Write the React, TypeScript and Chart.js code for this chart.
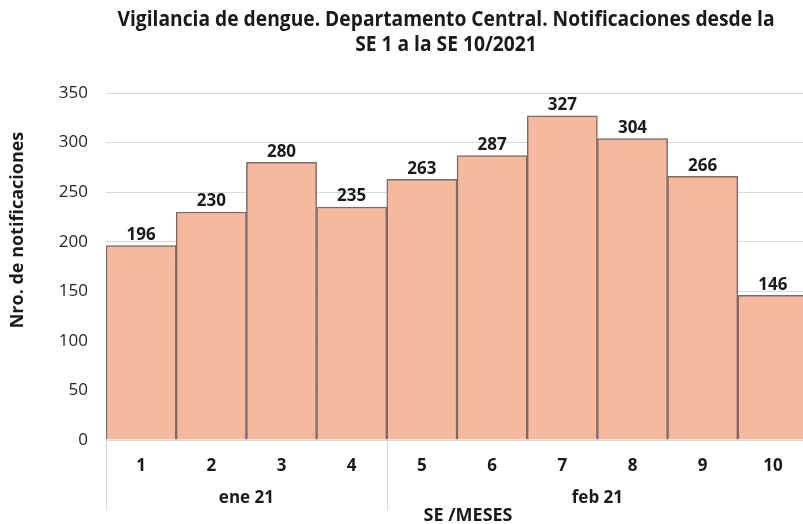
import React, { useEffect, useRef } from "react";
import { Chart, registerables } from "chart.js";

Chart.register(...registerables);

const weeks = ["1", "2", "3", "4", "5", "6", "7", "8", "9", "10"];
const notifications = [196, 230, 280, 235, 263, 287, 327, 304, 266, 146];
const months = ["ene 21", "feb 21"];
const monthStartIndex = [0, 4];
const monthEndIndex = [3, 9];
const titleLines = [
  "Vigilancia de dengue. Departamento Central. Notificaciones desde la",
  "SE 1 a la SE 10/2021",
];
const yTitle = "Nro. de notificaciones";
const xTitle = "SE /MESES";

const BASE_FONT = "'Open Sans', 'Noto Sans', sans-serif";
const TITLE_FONT = "'Open Sans', 'Noto Sans', sans-serif";

const overlayPlugin = {
  id: "overlay",
  afterDatasetsDraw(chart: any) {
    const ctx = chart.ctx;
    const x = chart.scales.x;
    const area = chart.chartArea;
    const meta = chart.getDatasetMeta(0);
    ctx.save();
    // data labels
    ctx.font = "bold 17px " + BASE_FONT;
    ctx.fillStyle = "#1a1a1a";
    ctx.textAlign = "center";
    ctx.textBaseline = "bottom";
    meta.data.forEach((bar: any, i: number) => {
      ctx.fillText(String(notifications[i]), bar.x, bar.y - 2);
    });
    // separators and month labels
    const half = (x.getPixelForValue(1) - x.getPixelForValue(0)) / 2;
    ctx.strokeStyle = "#d9d9d9";
    ctx.lineWidth = 1;
    months.forEach((m, k) => {
      const left = x.getPixelForValue(monthStartIndex[k]) - half;
      const right = x.getPixelForValue(monthEndIndex[k]) + half;
      ctx.beginPath();
      ctx.moveTo(Math.round(left) + 0.5, area.bottom);
      ctx.lineTo(Math.round(left) + 0.5, area.bottom + 70);
      ctx.stroke();
      ctx.font = "bold 17px " + BASE_FONT;
      ctx.fillStyle = "#1a1a1a";
      ctx.textBaseline = "middle";
      ctx.fillText(m, (left + right) / 2, area.bottom + 58);
    });
    // axis titles
    ctx.font = "bold 18px " + BASE_FONT;
    ctx.fillStyle = "#1a1a1a";
    ctx.textAlign = "center";
    ctx.textBaseline = "middle";
    ctx.fillText(xTitle, 468, area.bottom + 76);
    ctx.save();
    ctx.translate(18, 230);
    ctx.rotate(-Math.PI / 2);
    ctx.fillText(yTitle, 0, 0);
    ctx.restore();
    // title (condensed by horizontal scaling)
    ctx.font = "bold 21px " + TITLE_FONT;
    ctx.fillStyle = "#1a1a1a";
    const w0 = ctx.measureText(titleLines[0]).width;
    const sx = 657 / w0;
    ctx.save();
    ctx.translate(446, 0);
    ctx.scale(sx, 1);
    ctx.fillText(titleLines[0], 0, 20);
    ctx.fillText(titleLines[1], 0, 45);
    ctx.restore();
    ctx.restore();
  },
};

export default function App() {
  const ref = useRef<HTMLCanvasElement | null>(null);
  useEffect(() => {
    if (!ref.current) return;
    const chart = new Chart(ref.current, {
      type: "bar",
      data: {
        labels: weeks,
        datasets: [
          {
            data: notifications,
            backgroundColor: "#f4b99f",
            borderColor: "#7d6a62",
            borderWidth: 1.5,
            barPercentage: 1,
            categoryPercentage: 1,
          },
        ],
      },
      options: {
        animation: false,
        responsive: false,
        devicePixelRatio: 1,
        layout: { padding: { top: 93, right: 4, left: 0, bottom: 0 } },
        plugins: {
          legend: { display: false },
          tooltip: { enabled: false },
          title: { display: false },
        },
        scales: {
          x: {
            grid: { display: false, drawTicks: false },
            border: { display: true, color: "#d9d9d9", width: 1 },
            ticks: {
              padding: 16,
              color: "#1a1a1a",
              font: { family: BASE_FONT, size: 17, weight: "bold" },
            },
            afterFit: (s: any) => {
              s.height = 84;
            },
          },
          y: {
            min: 0,
            max: 350,
            grid: { color: "#d9d9d9", drawTicks: false },
            border: { display: false },
            ticks: {
              stepSize: 50,
              padding: 18,
              color: "#262626",
              font: { family: BASE_FONT, size: 17 },
            },
            afterFit: (s: any) => {
              s.width = 106;
            },
          },
        },
      },
      plugins: [overlayPlugin],
    });
    return () => chart.destroy();
  }, []);
  return (
    <div
      style={{
        position: "fixed",
        left: 0,
        top: 0,
        width: 803,
        height: 524,
        overflow: "hidden",
        background: "#ffffff",
      }}
    >
      <canvas ref={ref} width={812} height={524} style={{ display: "block" }} />
    </div>
  );
}
